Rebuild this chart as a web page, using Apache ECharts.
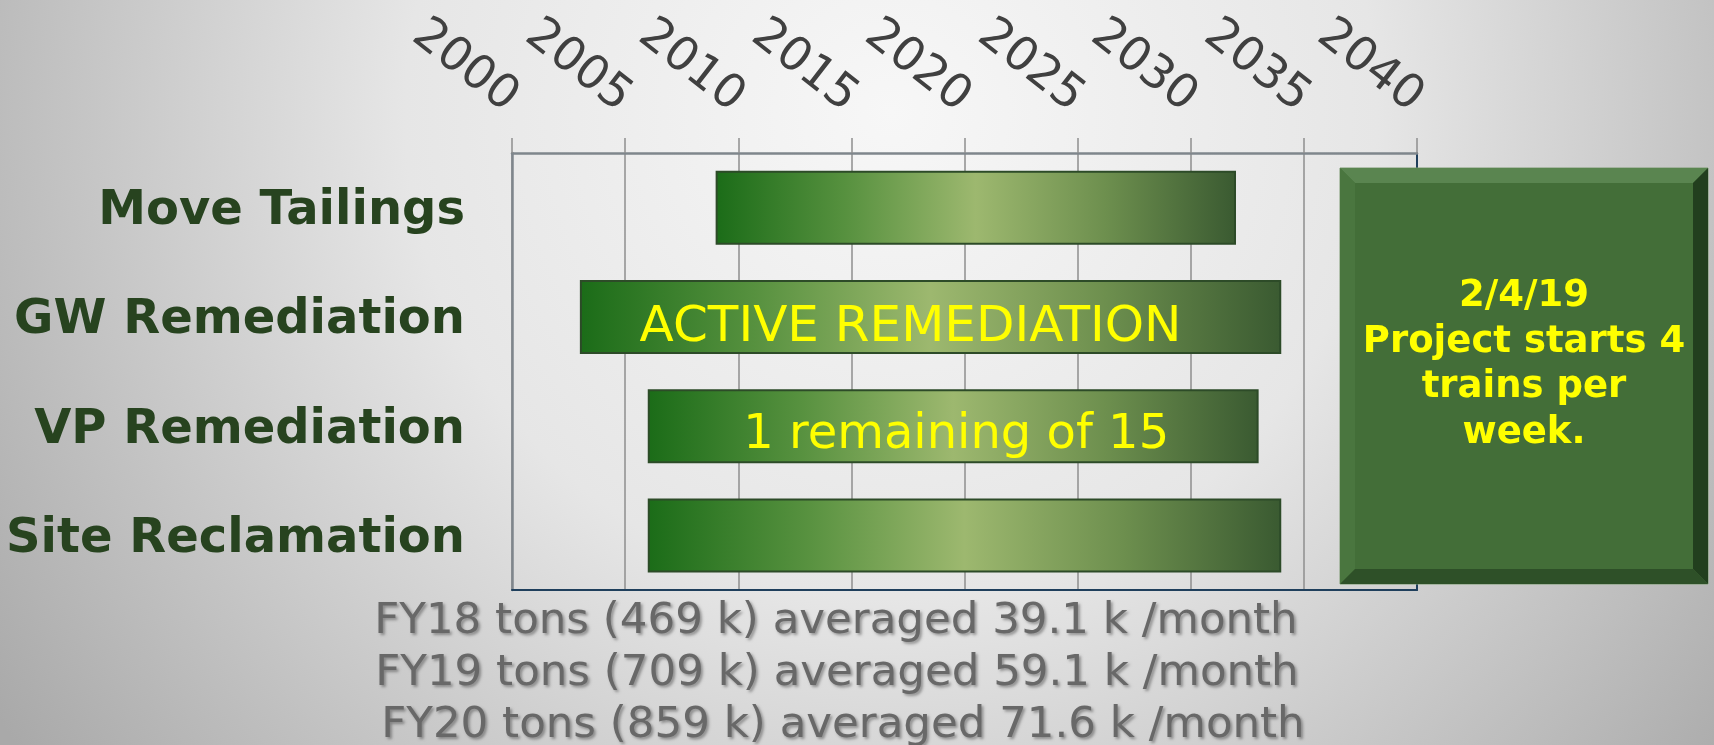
<!DOCTYPE html>
<html>
<head>
<meta charset="utf-8">
<script src="https://cdn.jsdelivr.net/npm/echarts@6/dist/echarts.min.js"></script>
<style>
  html, body { margin: 0; padding: 0; }
  #main { width: 1714px; height: 745px; }
</style>
</head>
<body>
<div id="main"></div>
<script>
// task rows, top to bottom
const tasks = ['Move Tailings', 'GW Remediation', 'VP Remediation', 'Site Reclamation'];
const startYear = [2009, 2003, 2006, 2006];
const endYear = [2032, 2034, 2033, 2034];
const barNotes = ['', 'ACTIVE REMEDIATION', '1 remaining of 15', ''];

// tonnage notes under the chart
const fiscalYears = ['FY18', 'FY19', 'FY20'];
const tonsK = [469, 709, 859];
const avgPerMonthK = [39.1, 59.1, 71.6];

// callout box
const calloutLines = ['2/4/19', 'Project starts 4', 'trains per', 'week.'];

const barGradient = new echarts.graphic.LinearGradient(0, 0, 1, 0, [
    { offset: 0, color: '#1b6c18' },
    { offset: 0.25, color: '#57913f' },
    { offset: 0.5, color: '#9db86f' },
    { offset: 0.75, color: '#6d8f4e' },
    { offset: 1, color: '#3a5a31' }
]);

const noteOffsets = [[0, 0], [-20, 11], [3, 9], [0, 0]];
const noteSizes = [0, 50, 48, 0];

const durationData = tasks.map((t, i) => {
    const item = { value: endYear[i] - startYear[i] };
    if (barNotes[i]) {
        item.label = {
            show: true,
            position: 'inside',
            formatter: barNotes[i],
            offset: noteOffsets[i],
            color: '#ffff00',
            fontSize: noteSizes[i],
            fontFamily: 'DejaVu Sans'
        };
    }
    return item;
});

// bottom text lines
const noteX = [836, 837, 843];
const noteY = [622, 674, 726];
const bottomTexts = fiscalYears.map((fy, i) => ({
    type: 'text',
    x: noteX[i],
    y: noteY[i],
    style: {
        text: fy + ' tons (' + tonsK[i] + ' k) averaged ' + avgPerMonthK[i].toFixed(1) + ' k /month',
        fill: '#686868',
        font: '43.5px "DejaVu Sans"',
        textAlign: 'center',
        textVerticalAlign: 'middle',
        textShadowColor: 'rgba(0,0,0,0.35)',
        textShadowBlur: 3,
        textShadowOffsetX: 2,
        textShadowOffsetY: 2
    }
}));

// callout with bevelled frame
const bx0 = 1340, by0 = 168, bx1 = 1708, by1 = 584, bev = 15;
const callout = [
    { type: 'rect', z: 100, shape: { x: bx0, y: by0, width: bx1 - bx0, height: by1 - by0 },
      style: { fill: '#436e38', stroke: '#7d9b72', lineWidth: 1 } },
    { type: 'polygon', z: 101, shape: { points: [[bx0, by0], [bx1, by0], [bx1 - bev, by0 + bev], [bx0 + bev, by0 + bev]] },
      style: { fill: '#5a8550' } },
    { type: 'polygon', z: 101, shape: { points: [[bx0, by0], [bx0 + bev, by0 + bev], [bx0 + bev, by1 - bev], [bx0, by1]] },
      style: { fill: '#4a763f' } },
    { type: 'polygon', z: 101, shape: { points: [[bx1, by0], [bx1, by1], [bx1 - bev, by1 - bev], [bx1 - bev, by0 + bev]] },
      style: { fill: '#223f1e' } },
    { type: 'polygon', z: 101, shape: { points: [[bx0, by1], [bx1, by1], [bx1 - bev, by1 - bev], [bx0 + bev, by1 - bev]] },
      style: { fill: '#2e5028' } },
    { type: 'text', z: 102, x: (bx0 + bx1) / 2, y: 365,
      style: {
          text: calloutLines.join('\n'),
          fill: '#ffff00',
          font: 'bold 37px "DejaVu Sans"',
          lineHeight: 45.5,
          textAlign: 'center',
          textVerticalAlign: 'middle'
      } }
];

const chart = echarts.init(document.getElementById('main'));

const option = {
    animation: false,
    backgroundColor: 'transparent',
    graphic: [
        { type: 'rect', z: -10, silent: true,
          shape: { x: 0, y: 0, width: 1714, height: 745 },
          style: { fill: new echarts.graphic.RadialGradient(0.52, 0.15, 1.45, [
              { offset: 0, color: '#f7f7f7' },
              { offset: 0.45, color: '#e6e6e6' },
              { offset: 1, color: '#a9a9a9' }
          ]) } }
    ].concat(bottomTexts, callout),
    grid: { left: 512, top: 153, width: 905, height: 437, outerBoundsMode: 'none' },
    xAxis: [
        {
            type: 'value',
            position: 'top',
            min: 2000,
            max: 2040,
            interval: 5,
            axisLine: { show: true, lineStyle: { color: '#7f868c', width: 2.5 } },
            axisTick: { show: true, length: 15, lineStyle: { color: '#8e8e8e', width: 1.5 } },
            splitLine: { show: true, lineStyle: { color: '#8e8e8e', width: 1.5 } },
            axisLabel: {
                rotate: 38,
                margin: 50,
                color: '#404040',
                fontSize: 47,
                fontFamily: 'DejaVu Sans',
                formatter: v => String(v),
                showMinLabel: true,
                showMaxLabel: true
            }
        },
        {
            type: 'value',
            position: 'bottom',
            min: 2000,
            max: 2040,
            axisLine: { show: true, lineStyle: { color: '#1f3f5c', width: 2 } },
            axisTick: { show: false },
            axisLabel: { show: false },
            splitLine: { show: false }
        }
    ],
    yAxis: [
        {
            type: 'category',
            data: tasks,
            inverse: true,
            axisLine: { show: true, lineStyle: { color: '#7f868c', width: 2.5 } },
            axisTick: { show: false },
            axisLabel: {
                margin: 47,
                formatter: v => '{t|' + v + '}',
                rich: {
                    t: {
                        padding: [8, 0, 0, 0],
                        color: '#27431f',
                        fontSize: 48,
                        fontWeight: 'bold',
                        fontFamily: 'DejaVu Sans'
                    }
                }
            }
        },
        {
            type: 'category',
            data: tasks,
            inverse: true,
            position: 'right',
            axisLine: { show: true, lineStyle: { color: '#1f3f5c', width: 2 } },
            axisTick: { show: false },
            axisLabel: { show: false }
        }
    ],
    series: [
        {
            name: 'start',
            type: 'bar',
            stack: 'span',
            barWidth: 74,
            silent: true,
            itemStyle: { color: 'transparent' },
            data: startYear
        },
        {
            name: 'span',
            type: 'bar',
            stack: 'span',
            barWidth: 74,
            itemStyle: {
                color: barGradient,
                borderColor: '#2d4b28',
                borderWidth: 2
            },
            data: durationData
        }
    ]
};

chart.setOption(option);
</script>
</body>
</html>
